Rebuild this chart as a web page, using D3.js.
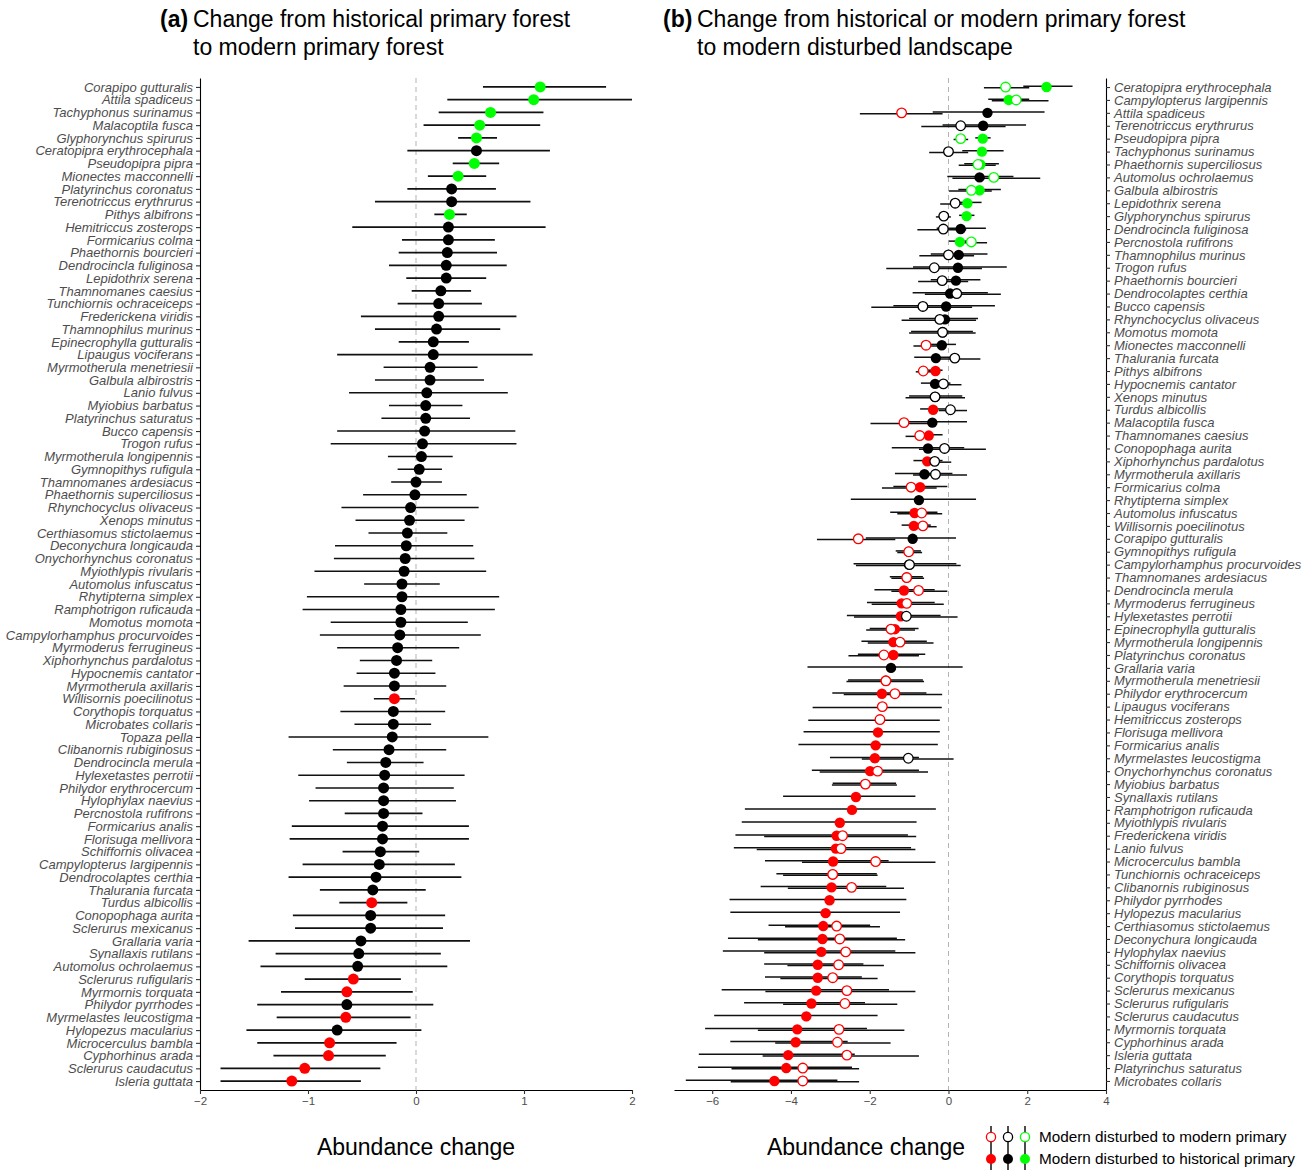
<!DOCTYPE html>
<html>
<head>
<meta charset="utf-8">
<script src="https://cdn.jsdelivr.net/npm/d3@7"></script>
<style>
  body { margin: 0; background: #fff; }
  text { font-family: "Liberation Sans", Arial, Helvetica, sans-serif; }
</style>
</head>
<body>
<svg id="chart" width="1312" height="1171"></svg>
<script>
// ---- panel (a): historical primary -> modern primary ----
const speciesA = ["Corapipo gutturalis","Attila spadiceus","Tachyphonus surinamus","Malacoptila fusca","Glyphorynchus spirurus","Ceratopipra erythrocephala","Pseudopipra pipra","Mionectes macconnelli","Platyrinchus coronatus","Terenotriccus erythrurus","Pithys albifrons","Hemitriccus zosterops","Formicarius colma","Phaethornis bourcieri","Dendrocincla fuliginosa","Lepidothrix serena","Thamnomanes caesius","Tunchiornis ochraceiceps","Frederickena viridis","Thamnophilus murinus","Epinecrophylla gutturalis","Lipaugus vociferans","Myrmotherula menetriesii","Galbula albirostris","Lanio fulvus","Myiobius barbatus","Platyrinchus saturatus","Bucco capensis","Trogon rufus","Myrmotherula longipennis","Gymnopithys rufigula","Thamnomanes ardesiacus","Phaethornis superciliosus","Rhynchocyclus olivaceus","Xenops minutus","Certhiasomus stictolaemus","Deconychura longicauda","Onychorhynchus coronatus","Myiothlypis rivularis","Automolus infuscatus","Rhytipterna simplex","Ramphotrigon ruficauda","Momotus momota","Campylorhamphus procurvoides","Myrmoderus ferrugineus","Xiphorhynchus pardalotus","Hypocnemis cantator","Myrmotherula axillaris","Willisornis poecilinotus","Corythopis torquatus","Microbates collaris","Topaza pella","Clibanornis rubiginosus","Dendrocincla merula","Hylexetastes perrotii","Philydor erythrocercum","Hylophylax naevius","Percnostola rufifrons","Formicarius analis","Florisuga mellivora","Schiffornis olivacea","Campylopterus largipennis","Dendrocolaptes certhia","Thalurania furcata","Turdus albicollis","Conopophaga aurita","Sclerurus mexicanus","Grallaria varia","Synallaxis rutilans","Automolus ochrolaemus","Sclerurus rufigularis","Myrmornis torquata","Philydor pyrrhodes","Myrmelastes leucostigma","Hylopezus macularius","Microcerculus bambla","Cyphorhinus arada","Sclerurus caudacutus","Isleria guttata"];
const meanA = [1.15,1.09,0.69,0.59,0.56,0.56,0.54,0.39,0.33,0.33,0.31,0.30,0.30,0.29,0.28,0.28,0.23,0.21,0.21,0.19,0.16,0.16,0.13,0.13,0.10,0.09,0.09,0.08,0.06,0.05,0.03,0.00,-0.01,-0.05,-0.06,-0.08,-0.09,-0.10,-0.11,-0.13,-0.13,-0.14,-0.14,-0.15,-0.17,-0.18,-0.20,-0.20,-0.20,-0.21,-0.21,-0.22,-0.25,-0.28,-0.29,-0.30,-0.30,-0.30,-0.31,-0.31,-0.33,-0.34,-0.37,-0.40,-0.41,-0.42,-0.42,-0.51,-0.53,-0.54,-0.58,-0.64,-0.64,-0.65,-0.73,-0.80,-0.81,-1.03,-1.15];
const loA = [0.62,0.29,0.21,0.07,0.39,-0.08,0.34,0.11,-0.08,-0.38,0.17,-0.59,-0.13,-0.16,-0.25,-0.09,-0.04,-0.17,-0.51,-0.38,-0.16,-0.73,-0.30,-0.38,-0.62,-0.25,-0.32,-0.73,-0.79,-0.26,-0.17,-0.23,-0.49,-0.69,-0.56,-0.44,-0.75,-0.76,-0.94,-0.48,-1.01,-1.05,-0.79,-0.89,-0.73,-0.52,-0.55,-0.67,-0.39,-0.70,-0.57,-1.18,-0.77,-0.64,-1.09,-0.93,-0.99,-0.66,-1.15,-1.17,-0.68,-1.05,-1.18,-0.89,-0.71,-1.14,-1.12,-1.55,-1.30,-1.44,-1.03,-1.25,-1.47,-1.29,-1.57,-1.47,-1.32,-1.81,-1.81];
const hiA = [1.76,2.00,1.18,1.15,0.75,1.24,0.77,0.65,0.74,1.06,0.47,1.20,0.73,0.75,0.84,0.65,0.51,0.61,0.93,0.78,0.49,1.08,0.57,0.63,0.85,0.43,0.50,0.92,0.93,0.34,0.24,0.24,0.47,0.58,0.45,0.29,0.53,0.54,0.65,0.22,0.77,0.73,0.48,0.60,0.40,0.15,0.18,0.28,-0.01,0.27,0.14,0.67,0.28,0.07,0.45,0.35,0.37,0.06,0.49,0.49,0.03,0.36,0.42,0.09,-0.08,0.27,0.25,0.50,0.23,0.29,-0.14,-0.03,0.16,-0.05,0.05,-0.18,-0.28,-0.33,-0.51];
const sigA = ["pos","pos","pos","pos","pos","ns","pos","pos","ns","ns","pos","ns","ns","ns","ns","ns","ns","ns","ns","ns","ns","ns","ns","ns","ns","ns","ns","ns","ns","ns","ns","ns","ns","ns","ns","ns","ns","ns","ns","ns","ns","ns","ns","ns","ns","ns","ns","ns","neg","ns","ns","ns","ns","ns","ns","ns","ns","ns","ns","ns","ns","ns","ns","ns","neg","ns","ns","ns","ns","ns","neg","neg","ns","neg","ns","neg","neg","neg","neg"];

// ---- panel (b): historical / modern primary -> modern disturbed ----
const speciesB = ["Ceratopipra erythrocephala","Campylopterus largipennis","Attila spadiceus","Terenotriccus erythrurus","Pseudopipra pipra","Tachyphonus surinamus","Phaethornis superciliosus","Automolus ochrolaemus","Galbula albirostris","Lepidothrix serena","Glyphorynchus spirurus","Dendrocincla fuliginosa","Percnostola rufifrons","Thamnophilus murinus","Trogon rufus","Phaethornis bourcieri","Dendrocolaptes certhia","Bucco capensis","Rhynchocyclus olivaceus","Momotus momota","Mionectes macconnelli","Thalurania furcata","Pithys albifrons","Hypocnemis cantator","Xenops minutus","Turdus albicollis","Malacoptila fusca","Thamnomanes caesius","Conopophaga aurita","Xiphorhynchus pardalotus","Myrmotherula axillaris","Formicarius colma","Rhytipterna simplex","Automolus infuscatus","Willisornis poecilinotus","Corapipo gutturalis","Gymnopithys rufigula","Campylorhamphus procurvoides","Thamnomanes ardesiacus","Dendrocincla merula","Myrmoderus ferrugineus","Hylexetastes perrotii","Epinecrophylla gutturalis","Myrmotherula longipennis","Platyrinchus coronatus","Grallaria varia","Myrmotherula menetriesii","Philydor erythrocercum","Lipaugus vociferans","Hemitriccus zosterops","Florisuga mellivora","Formicarius analis","Myrmelastes leucostigma","Onychorhynchus coronatus","Myiobius barbatus","Synallaxis rutilans","Ramphotrigon ruficauda","Myiothlypis rivularis","Frederickena viridis","Lanio fulvus","Microcerculus bambla","Tunchiornis ochraceiceps","Clibanornis rubiginosus","Philydor pyrrhodes","Hylopezus macularius","Certhiasomus stictolaemus","Deconychura longicauda","Hylophylax naevius","Schiffornis olivacea","Corythopis torquatus","Sclerurus mexicanus","Sclerurus rufigularis","Sclerurus caudacutus","Myrmornis torquata","Cyphorhinus arada","Isleria guttata","Platyrinchus saturatus","Microbates collaris"];
// filled: modern disturbed vs historical primary
const histMean = [2.49,1.53,0.99,0.88,0.87,0.85,0.81,0.79,0.79,0.48,0.46,0.31,0.29,0.26,0.24,0.19,0.04,-0.06,-0.09,-0.15,-0.17,-0.32,-0.33,-0.34,-0.34,-0.39,-0.41,-0.50,-0.52,-0.54,-0.61,-0.72,-0.75,-0.86,-0.88,-0.91,-1.01,-1.00,-1.06,-1.13,-1.19,-1.21,-1.36,-1.40,-1.40,-1.46,-1.59,-1.69,null,null,-1.79,-1.85,-1.87,-1.99,-2.11,-2.35,-2.45,-2.76,-2.84,-2.86,-2.93,-2.94,-2.97,-3.02,-3.12,-3.18,-3.20,-3.23,-3.32,-3.32,-3.36,-3.48,-3.61,-3.84,-3.88,-4.07,-4.12,-4.42];
const histLo = [1.90,1.01,-0.40,-0.15,0.68,0.35,0.40,-0.03,0.25,0.15,0.27,-0.30,0.01,-0.45,-0.90,-0.45,-0.91,-1.40,-1.00,-0.95,-0.50,-0.87,-0.55,-0.70,-1.00,-0.72,-1.20,-0.85,-1.44,-0.89,-1.36,-1.40,-2.48,-1.48,-1.19,-2.10,-1.34,-2.41,-1.49,-1.88,-2.07,-2.58,-2.00,-2.21,-2.30,-3.58,-2.55,-2.95,null,null,-3.68,-3.81,-3.01,-3.47,-2.94,-4.20,-5.17,-5.25,-5.41,-5.45,-4.66,-4.37,-4.77,-5.56,-5.54,-4.57,-5.60,-5.73,-4.68,-4.66,-5.76,-5.19,-5.95,-6.18,-5.54,-6.34,-6.36,-6.67];
const histHi = [3.15,2.05,2.44,1.97,1.07,1.40,1.28,1.65,1.33,0.84,0.66,0.95,0.62,0.99,1.48,0.81,1.00,1.18,0.75,0.62,0.19,0.25,-0.15,0.05,0.35,-0.05,0.47,-0.15,0.40,-0.15,0.10,-0.03,0.70,-0.28,-0.45,0.19,-0.70,0.20,-0.65,-0.35,-0.35,-0.20,-0.76,-0.55,-0.59,0.36,-0.65,-0.56,null,null,-0.22,-0.27,-0.75,-0.75,-1.33,-0.84,-0.32,-0.81,-1.03,-0.95,-1.52,-1.82,-1.58,-1.07,-1.23,-1.99,-1.31,-1.35,-2.16,-2.20,-1.51,-2.12,-1.80,-2.07,-2.56,-2.38,-2.45,-2.82];
const histSig = ["pos","pos","ns","ns","pos","pos","pos","ns","pos","pos","pos","ns","pos","ns","ns","ns","ns","ns","ns","ns","ns","ns","neg","ns","ns","neg","ns","neg","ns","neg","ns","neg","ns","neg","neg","ns","neg","ns","neg","neg","neg","neg","neg","neg","neg","ns","neg","neg",null,null,"neg","neg","neg","neg","neg","neg","neg","neg","neg","neg","neg","neg","neg","neg","neg","neg","neg","neg","neg","neg","neg","neg","neg","neg","neg","neg","neg","neg"];
// open: modern disturbed vs modern primary
const modMean = [1.45,1.72,-1.19,0.31,0.31,0.00,0.75,1.15,0.58,0.17,-0.12,-0.13,0.58,0.00,-0.36,-0.16,0.21,-0.65,-0.22,-0.15,-0.57,0.16,-0.64,-0.13,-0.34,0.05,-1.13,-0.73,-0.10,-0.35,-0.33,-0.95,null,-0.68,-0.65,-2.29,-1.01,-0.99,-1.06,-0.76,-1.06,-1.07,-1.46,-1.23,-1.64,null,-1.59,-1.36,-1.68,-1.74,null,null,-1.02,-1.80,-2.11,null,null,null,-2.69,-2.73,-1.85,-2.94,-2.46,null,null,-2.84,-2.76,-2.61,-2.79,-2.94,-2.58,-2.63,null,-2.78,-2.82,-2.58,-3.70,-3.70];
const modLo = [0.90,1.10,-2.25,-0.69,0.13,-0.49,0.26,0.10,0.01,-0.21,-0.32,-0.79,0.20,-0.74,-1.58,-0.77,-0.60,-1.96,-1.19,-1.00,-0.89,-0.30,-0.83,-0.40,-1.09,-0.25,-1.98,-1.09,-0.75,-0.65,-0.90,-1.69,null,-1.30,-1.00,-3.34,-1.30,-2.35,-1.45,-1.45,-1.95,-2.40,-2.09,-2.05,-2.54,null,-2.59,-2.66,-3.45,-3.56,null,null,-2.20,-3.27,-2.96,null,null,null,-4.68,-4.87,-3.72,-4.20,-4.08,null,null,-4.15,-4.84,-4.68,-4.09,-4.27,-4.65,-4.20,null,-4.84,-4.40,-4.72,-5.51,-5.53];
const modHi = [2.05,2.54,-0.15,1.45,0.50,0.50,1.20,2.33,1.10,0.55,0.06,0.45,0.98,0.65,0.85,0.50,1.33,0.60,0.70,0.69,-0.15,0.81,-0.40,0.33,0.42,0.47,-0.30,-0.40,0.95,0.07,0.47,-0.30,null,-0.16,-0.30,-1.35,-0.67,0.31,-0.62,-0.03,-0.12,0.23,-0.85,-0.38,-0.75,null,-0.62,-0.16,-0.17,-0.22,null,null,0.13,-0.52,-1.31,null,null,null,-0.82,-0.84,-0.33,-1.80,-1.13,null,null,-1.74,-1.10,-0.84,-1.64,-1.80,-0.84,-1.30,null,-1.12,-1.47,-0.75,-2.27,-2.27];
const modSig = ["pos","pos","neg","ns","pos","ns","pos","pos","pos","ns","ns","ns","pos","ns","ns","ns","ns","ns","ns","ns","neg","ns","neg","ns","ns","ns","neg","neg","ns","ns","ns","neg",null,"neg","neg","neg","neg","ns","neg","neg","neg","ns","neg","neg","neg",null,"neg","neg","neg","neg",null,null,"ns","neg","neg",null,null,null,"neg","neg","neg","neg","neg",null,null,"neg","neg","neg","neg","neg","neg","neg",null,"neg","neg","neg","neg","neg"];

const ticksA = [-2, -1, 0, 1, 2];
const ticksB = [-6, -4, -2, 0, 2, 4];
const legendLabels = ["Modern disturbed to modern primary", "Modern disturbed to historical primary"];
const legendSig = ["neg", "ns", "pos"];

const colour = { neg: "#ff0000", ns: "#000000", pos: "#00ff00" };
const labelGrey = "#4d4d4d";
const fmt = d => d < 0 ? "\u2212" + Math.abs(d) : String(d);

const svg = d3.select("#chart");
const plotTop = 78, plotBottom = 1090;

// scales
const xA = d3.scaleLinear().domain([-2, 2]).range([200, 632]);
const yA = d3.scalePoint().domain(speciesA).range([plotTop, plotBottom]).padding(0.7);
const xB = d3.scaleLinear().domain([-6.97, 4]).range([674, 1106]);
const yB = d3.scalePoint().domain(speciesB).range([plotTop, plotBottom]).padding(0.7);

function styleAxis(g) {
  g.select(".domain").attr("stroke", "#000").attr("stroke-width", 1.1);
  g.selectAll(".tick line").attr("stroke", "#333").attr("stroke-width", 1.1);
  g.selectAll(".tick text").attr("fill", labelGrey);
}

// ---- panel a ----
const pa = svg.append("g");
pa.append("line")
  .attr("x1", xA(0)).attr("x2", xA(0)).attr("y1", plotTop).attr("y2", plotBottom)
  .attr("stroke", "#b3b3b3").attr("stroke-width", 1).attr("stroke-dasharray", "5,4");

pa.append("g").selectAll("line")
  .data(speciesA)
  .join("line")
  .attr("x1", (d, i) => xA(loA[i]))
  .attr("x2", (d, i) => xA(hiA[i]))
  .attr("y1", d => yA(d)).attr("y2", d => yA(d))
  .attr("stroke", "#111").attr("stroke-width", 1.6);

pa.append("g").selectAll("circle")
  .data(speciesA)
  .join("circle")
  .attr("cx", (d, i) => xA(meanA[i]))
  .attr("cy", d => yA(d))
  .attr("r", 5.5)
  .attr("fill", (d, i) => colour[sigA[i]]);

const axLeftA = pa.append("g")
  .attr("transform", `translate(${xA.range()[0]},0)`)
  .call(d3.axisLeft(yA).tickSize(4).tickSizeOuter(0).tickPadding(3));
styleAxis(axLeftA);
axLeftA.selectAll(".tick text").attr("font-size", 13).attr("font-style", "italic")
  .attr("font-family", "'Liberation Sans', Arial, sans-serif");

const axBotA = pa.append("g")
  .attr("transform", `translate(0,${plotBottom})`)
  .call(d3.axisBottom(xA).tickValues(ticksA).tickFormat(fmt).tickSize(4).tickSizeOuter(0).tickPadding(3));
styleAxis(axBotA);
axBotA.selectAll(".tick text").attr("font-size", 11.5).attr("font-family", "'Liberation Sans', Arial, sans-serif");

// ---- panel b ----
const pb = svg.append("g");
pb.append("line")
  .attr("x1", xB(0)).attr("x2", xB(0)).attr("y1", plotTop).attr("y2", plotBottom)
  .attr("stroke", "#b3b3b3").attr("stroke-width", 1).attr("stroke-dasharray", "5,4");

const rowsB = speciesB.map((s, i) => ({ s, i }));
const histRows = rowsB.filter(r => histMean[r.i] !== null);
const modRows = rowsB.filter(r => modMean[r.i] !== null);

pb.append("g").selectAll("line")
  .data(histRows)
  .join("line")
  .attr("x1", r => xB(histLo[r.i])).attr("x2", r => xB(histHi[r.i]))
  .attr("y1", r => yB(r.s) - 0.8).attr("y2", r => yB(r.s) - 0.8)
  .attr("stroke", "#111").attr("stroke-width", 1.5);

pb.append("g").selectAll("line")
  .data(modRows)
  .join("line")
  .attr("x1", r => xB(modLo[r.i])).attr("x2", r => xB(modHi[r.i]))
  .attr("y1", r => yB(r.s) + 0.8).attr("y2", r => yB(r.s) + 0.8)
  .attr("stroke", "#111").attr("stroke-width", 1.5);

pb.append("g").selectAll("circle")
  .data(histRows)
  .join("circle")
  .attr("cx", r => xB(histMean[r.i]))
  .attr("cy", r => yB(r.s))
  .attr("r", 5.2)
  .attr("fill", r => colour[histSig[r.i]]);

pb.append("g").selectAll("circle")
  .data(modRows)
  .join("circle")
  .attr("cx", r => xB(modMean[r.i]))
  .attr("cy", r => yB(r.s))
  .attr("r", 4.8)
  .attr("fill", "#fff")
  .attr("stroke", r => colour[modSig[r.i]])
  .attr("stroke-width", 1.3);

const axRightB = pb.append("g")
  .attr("transform", `translate(${xB.range()[1]},0)`)
  .call(d3.axisRight(yB).tickSize(4).tickSizeOuter(0).tickPadding(4));
styleAxis(axRightB);
axRightB.selectAll(".tick text").attr("font-size", 13).attr("font-style", "italic")
  .attr("font-family", "'Liberation Sans', Arial, sans-serif");

const axBotB = pb.append("g")
  .attr("transform", `translate(0,${plotBottom})`)
  .call(d3.axisBottom(xB).tickValues(ticksB).tickFormat(fmt).tickSize(4).tickSizeOuter(0).tickPadding(3));
styleAxis(axBotB);
axBotB.selectAll(".tick text").attr("font-size", 11.5).attr("font-family", "'Liberation Sans', Arial, sans-serif");

// ---- titles ----
function title(x, xText, tag, line1, line2) {
  const t = svg.append("text").attr("x", x).attr("y", 27).attr("font-size", 23).attr("fill", "#000");
  t.append("tspan").attr("font-weight", "bold").text(tag);
  t.append("tspan").attr("x", xText).text(line1);
  svg.append("text").attr("x", xText).attr("y", 55).attr("font-size", 23).attr("fill", "#000").text(line2);
}
title(160, 193, "(a)", "Change from historical primary forest", "to modern primary forest");
title(663, 697, "(b)", "Change from historical or modern primary forest", "to modern disturbed landscape");

svg.append("text").attr("x", 416).attr("y", 1155).attr("text-anchor", "middle")
  .attr("font-size", 23).text("Abundance change");
svg.append("text").attr("x", 866).attr("y", 1155).attr("text-anchor", "middle")
  .attr("font-size", 23).text("Abundance change");

// ---- legend ----
const leg = svg.append("g");
const legX = [991, 1008, 1025];
const legY = [1137, 1159];
legY.forEach((yy, row) => {
  legendSig.forEach((s, k) => {
    leg.append("line").attr("x1", legX[k]).attr("x2", legX[k])
      .attr("y1", yy - 11).attr("y2", yy + 11).attr("stroke", "#111").attr("stroke-width", 1.5);
    leg.append("circle").attr("cx", legX[k]).attr("cy", yy).attr("r", row === 0 ? 4.6 : 5)
      .attr("fill", row === 0 ? "#fff" : colour[s])
      .attr("stroke", row === 0 ? colour[s] : "none").attr("stroke-width", 1.3);
  });
  leg.append("text").attr("x", 1039).attr("y", yy + 5).attr("font-size", 15.3).attr("fill", "#000")
    .text(legendLabels[row]);
});
</script>
</body>
</html>
